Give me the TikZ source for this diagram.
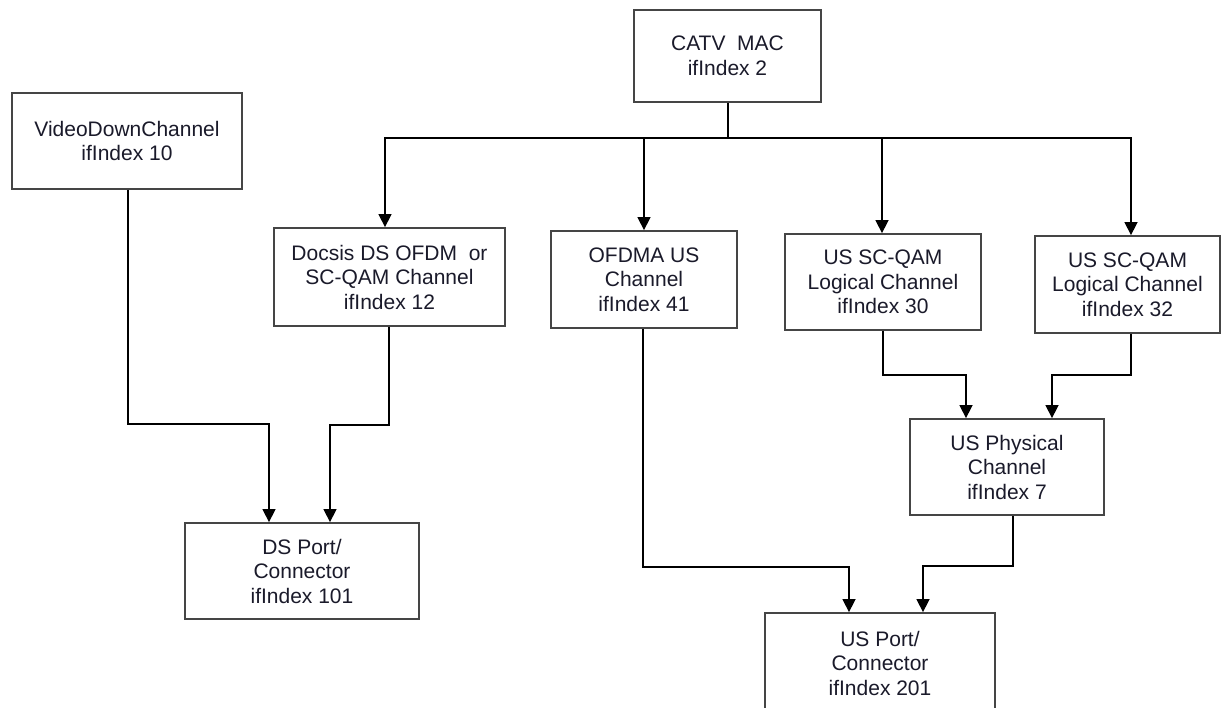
\documentclass[tikz,border=0pt]{standalone}
\usepackage{fontspec}
\setmainfont{Liberation Sans}
\usetikzlibrary{arrows.meta}
\definecolor{boxline}{HTML}{454545}
\definecolor{txt}{HTML}{1A1A2A}
\begin{document}
\begin{tikzpicture}[x=1pt,y=-1pt,
  blk/.style={draw=boxline, line width=1.8pt, fill=white, align=center, inner sep=0pt,
    text=txt, font=\fontsize{21}{24.5}\selectfont},
  conn/.style={draw=black, line width=1.5pt},
  arr/.style={conn, -{Triangle[width=13pt,length=13pt]}}]
\useasboundingbox (0,0) rectangle (1224,708);
\fill[white] (0,0) rectangle (1224,708);
% boxes
\node[blk, minimum width=187pt, minimum height=92pt] (mac) at (727.5,56) {CATV\ \ MAC\\ifIndex 2};
\node[blk, minimum width=230pt, minimum height=96pt] (video) at (127,141) {VideoDownChannel\\ifIndex 10};
\node[blk, minimum width=231pt, minimum height=98pt] (docsis) at (389.5,277) {Docsis DS OFDM\ \ or\\SC-QAM Channel\\ifIndex 12};
\node[blk, minimum width=186pt, minimum height=97pt] (ofdma) at (644,279.5) {OFDMA US\\Channel\\ifIndex 41};
\node[blk, minimum width=196pt, minimum height=96pt] (sc30) at (883,282) {US SC-QAM\\Logical Channel\\ifIndex 30};
\node[blk, minimum width=185pt, minimum height=97pt] (sc32) at (1127.5,284.5) {US SC-QAM\\Logical Channel\\ifIndex 32};
\node[blk, minimum width=194pt, minimum height=96pt] (phys) at (1007,467) {US Physical\\Channel\\ifIndex 7};
\node[blk, minimum width=234pt, minimum height=96pt] (dsport) at (302,571) {DS Port/\\Connector\\ifIndex 101};
\node[blk, minimum width=230pt, minimum height=100pt] (usport) at (880,663) {US Port/\\Connector\\ifIndex 201};
% bus from MAC
\coordinate (bus) at (728,138);
\draw[conn] ([xshift=0.5pt]mac.south) -- (bus);
\draw[arr] (bus) -| ([xshift=-4.5pt]docsis.north);
\draw[arr] (bus) -| (ofdma.north);
\draw[arr] (bus) -| ([xshift=-1pt]sc30.north);
\draw[arr] (bus) -| ([xshift=3.5pt]sc32.north);
% lower connectors
\draw[arr] ([xshift=1pt]video.south) -- ++(0,234) -| ([xshift=-33pt]dsport.north);
\draw[arr] ([xshift=-0.5pt]docsis.south) -- ++(0,98) -| ([xshift=28pt]dsport.north);
\draw[arr] ([xshift=-1pt]ofdma.south) -- ++(0,238) -| ([xshift=-31pt]usport.north);
\draw[arr] ([xshift=6pt]phys.south) -- ++(0,50) -| ([xshift=43pt]usport.north);
\draw[arr] (sc30.south) -- ++(0,44) -| ([xshift=-41pt]phys.north);
\draw[arr] ([xshift=3.5pt]sc32.south) -- ++(0,41) -| ([xshift=45pt]phys.north);
\end{tikzpicture}
\end{document}
